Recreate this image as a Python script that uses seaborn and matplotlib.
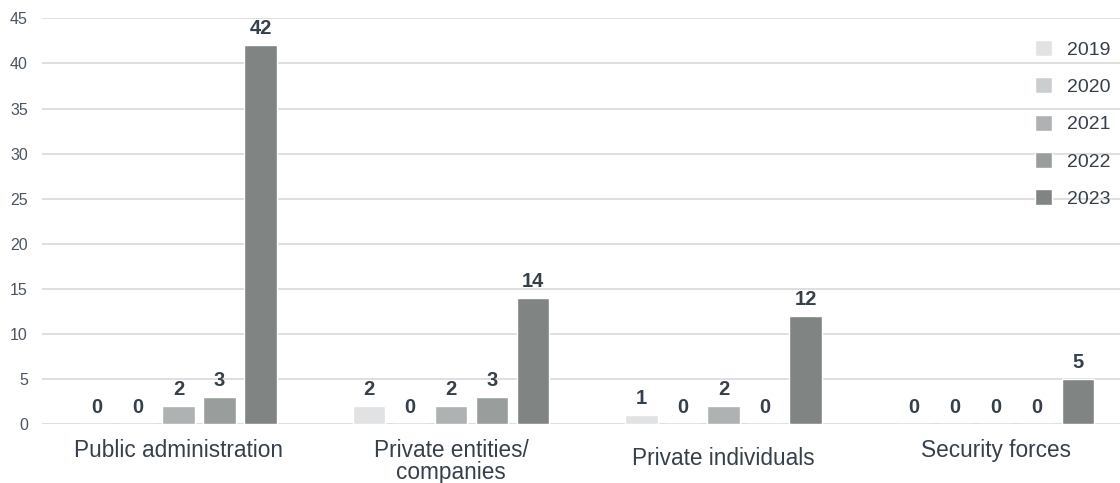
import matplotlib
matplotlib.use("Agg")
import matplotlib.pyplot as plt
import matplotlib.transforms as mtransforms
import pandas as pd
import seaborn as sns

# Categories and yearly counts
categories = ["Public administration", "Private entities/\ncompanies",
              "Private individuals", "Security forces"]
years = ["2019", "2020", "2021", "2022", "2023"]
counts_2019 = [0, 2, 1, 0]
counts_2020 = [0, 0, 0, 0]
counts_2021 = [2, 2, 2, 0]
counts_2022 = [3, 3, 0, 0]
counts_2023 = [42, 14, 12, 5]
y_ticks = [0, 5, 10, 15, 20, 25, 30, 35, 40, 45]

palette = ["#e1e2e3", "#cbcecf", "#afb2b2", "#999d9c", "#808584"]
text_dark = "#36404b"
tick_color = "#4b5561"
grid_color = "#d9d9d9"

series = [counts_2019, counts_2020, counts_2021, counts_2022, counts_2023]
rows = []
for year, vals in zip(years, series):
    for cat, v in zip(categories, vals):
        rows.append({"category": cat, "year": year, "value": v})
df = pd.DataFrame(rows)

sns.set_theme(style="white")
plt.rcParams["font.family"] = ["Liberation Sans", "DejaVu Sans"]

fig = plt.figure(figsize=(11.2, 4.83), dpi=100)
ax = fig.add_axes([0.0372, 0.122, 0.9628, 0.84])

sns.barplot(data=df, x="category", y="value", hue="year", order=categories,
            hue_order=years, palette=palette, width=0.752, gap=0.21,
            errorbar=None, saturation=1, ax=ax, zorder=3)

for cont in ax.containers:
    ax.bar_label(cont, fmt="{:.0f}", padding=5, fontsize=14.5, fontweight="bold",
                 color=text_dark)

ax.set_ylim(0, 45)
ax.set_xlim(-0.502, 3.455)
ax.set_yticks(y_ticks)
ax.yaxis.grid(True, color=grid_color, linewidth=1.2, zorder=0)
ax.set_axisbelow(True)
for side in ["top", "right", "left", "bottom"]:
    ax.spines[side].set_visible(False)
ax.set_xlabel("")
ax.set_ylabel("")
ax.tick_params(axis="y", length=0, pad=10, labelsize=11.5, labelcolor=tick_color)
ax.tick_params(axis="x", length=0, pad=11, labelsize=16.3, labelcolor=text_dark)
for lab in ax.get_xticklabels():
    lab.set_linespacing(0.95)
# the third category label sits a little lower
lab3 = ax.get_xticklabels()[2]
lab3.set_transform(lab3.get_transform() +
                   mtransforms.ScaledTranslation(0, -8 / 100, fig.dpi_scale_trans))

leg = ax.legend(loc="upper left", bbox_to_anchor=(1035 / 1120, 1 - 40 / 483),
                bbox_transform=fig.transFigure, frameon=False, fontsize=14,
                handlelength=0.88, handleheight=0.88, handletextpad=0.75,
                labelspacing=0.96, borderpad=0, borderaxespad=0)
for t in leg.get_texts():
    t.set_color(text_dark)

fig.savefig("out.png", dpi=100)
